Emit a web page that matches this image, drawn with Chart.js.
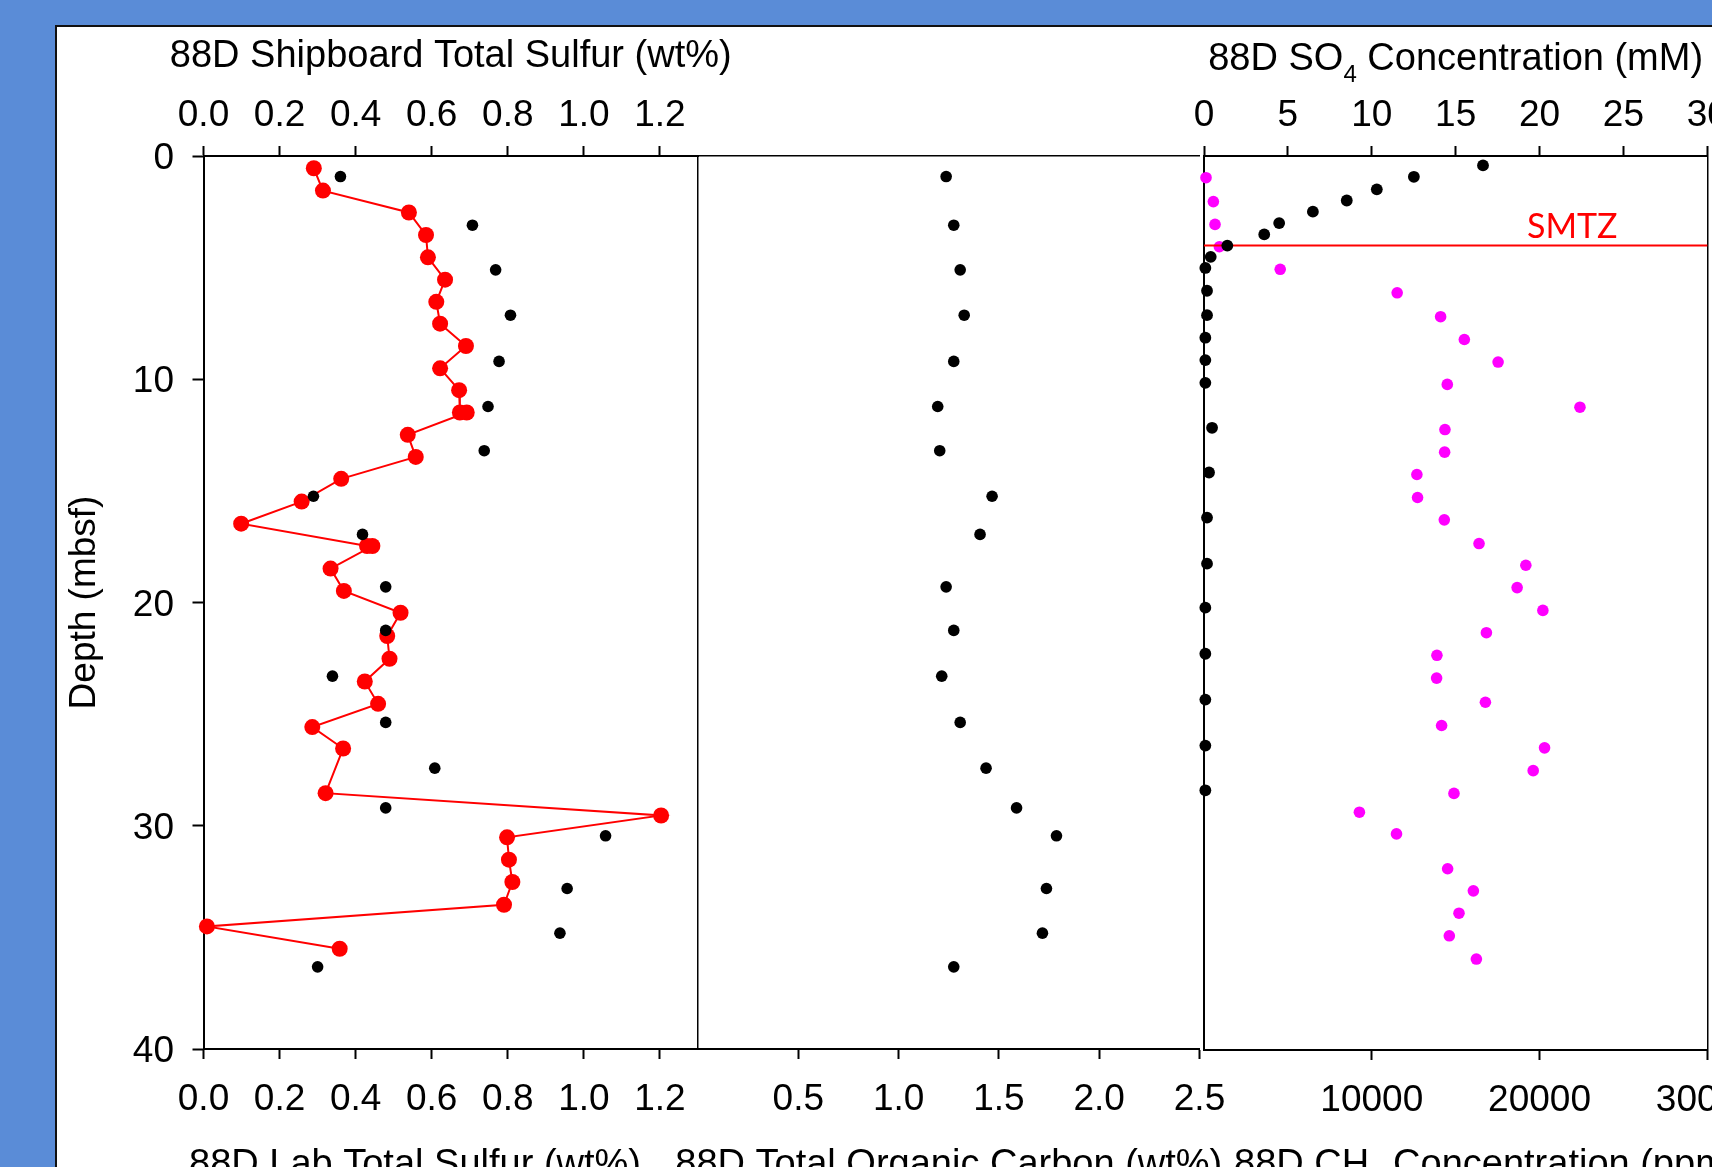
<!DOCTYPE html>
<html><head><meta charset="utf-8">
<script src="https://cdn.jsdelivr.net/npm/chart.js@4.4.1/dist/chart.umd.min.js"></script>
<style>
html,body{margin:0;padding:0;width:1712px;height:1167px;overflow:hidden;background:#5A8CD7;}
#frame{position:absolute;left:55px;top:25px;width:1700px;height:1200px;background:#fff;border-left:2px solid #111;border-top:2px solid #111;}
canvas{position:absolute;left:0;top:0;}
</style></head><body>
<div id="frame"></div>
<canvas id="c1" width="1800" height="1300"></canvas>
<canvas id="c2" width="1800" height="1300"></canvas>
<canvas id="c3" width="1800" height="1300"></canvas>
<script>
// ---------------- data ----------------
const depthTicks = [0, 10, 20, 30, 40];
const sulfurTicks = [0, 0.2, 0.4, 0.6, 0.8, 1.0, 1.2];
const tocTicks = [0.5, 1.0, 1.5, 2.0, 2.5];
const so4Ticks = [0, 5, 10, 15, 20, 25, 30];
const ch4Ticks = [10000, 20000, 30000];

const labSulfurDepth = [0.55,1.55,2.53,3.54,4.54,5.54,6.53,7.51,8.51,9.51,10.49,11.49,11.49,12.49,13.48,14.46,15.48,16.47,17.47,17.47,18.48,19.48,20.46,21.5,22.52,23.54,24.54,25.58,26.54,28.54,29.54,30.52,31.52,32.52,33.54,34.51,35.51];
const labSulfur = [0.290,0.314,0.540,0.585,0.590,0.635,0.612,0.622,0.690,0.622,0.672,0.674,0.692,0.537,0.558,0.362,0.258,0.099,0.430,0.444,0.334,0.369,0.518,0.483,0.489,0.424,0.459,0.286,0.367,0.321,1.203,0.798,0.803,0.812,0.790,0.009,0.358];

const coreDepth = [0.92,3.1,5.1,7.13,9.2,11.22,13.2,15.24,16.95,19.3,21.25,23.3,25.37,27.42,29.2,30.45,32.81,34.81,36.32];
const shipboardSulfur = [0.360,0.707,0.768,0.807,0.777,0.748,0.738,0.289,0.418,0.479,0.479,0.339,0.479,0.608,0.479,1.057,0.956,0.937,0.300];
const toc = [1.237,1.275,1.307,1.327,1.275,1.195,1.205,1.466,1.406,1.237,1.275,1.215,1.307,1.436,1.588,1.787,1.737,1.717,1.275];

const so4Depth = [0.42,0.93,1.49,1.99,2.49,3.0,3.51,4.01,4.51,5.01,6.03,7.12,8.13,9.13,10.15,12.16,14.16,16.18,18.24,20.21,22.27,24.32,26.38,28.38];
const so4 = [16.63,12.51,10.30,8.51,6.49,4.48,3.59,1.39,0.40,0.08,0.18,0.18,0.08,0.08,0.08,0.48,0.30,0.18,0.18,0.08,0.08,0.08,0.08,0.08];

const ch4Depth = [0.97,2.04,3.06,4.06,5.07,6.12,7.19,8.21,9.22,10.22,11.24,12.24,13.25,14.25,15.28,16.28,17.34,18.31,19.31,20.33,21.33,22.34,23.36,24.44,25.48,26.48,27.5,28.52,29.36,30.33,31.89,32.88,33.88,34.89,35.93];
const ch4 = [120,558,657,916,4542,11514,14104,15518,17530,14502,22410,14363,14343,12689,12729,14323,16394,19183,18665,20199,16833,13884,13865,16773,14163,20299,19622,14900,9263,11474,14522,16056,15199,14622,16235];

const smtzDepth = 4.0;
const smtzRange = [0, 30];

// ---------------- helpers ----------------
const FONT = "'Liberation Sans', Arial, sans-serif";
const TITLE_SIZE = 38;
Chart.defaults.font.family = FONT;
Chart.defaults.font.size = 37;
Chart.defaults.color = '#000';

const pts = (xs, ys) => xs.map((x, i) => ({x: x, y: ys[i]}));
const setTicks = arr => s => { s.ticks = arr.map(v => ({value: v})); };
const fix = (prop, v) => s => { s[prop] = v; s.paddingLeft = 0; s.paddingRight = 0; s.paddingTop = 0; s.paddingBottom = 0; };

function tickAxis(pos, min, max, ticks, size, pad, fmt, extra) {
  const horiz = pos === 'top' || pos === 'bottom';
  return Object.assign({
    type: 'linear', position: pos, min: min, max: max,
    afterBuildTicks: setTicks(ticks),
    afterFit: fix(horiz ? 'height' : 'width', size),
    ticks: {display: true, color: '#000', padding: pad, autoSkip: false, maxRotation: 0, minRotation: 0,
            labelOffset: horiz ? 0 : 3, font: {size: 37}, callback: fmt},
    grid: {display: true, drawOnChartArea: false, drawTicks: true, tickLength: horiz ? 10 : 11,
           tickWidth: 2, tickColor: '#000'},
    border: {display: true, color: '#000', width: 2}
  }, extra || {});
}
function borderAxis(pos, min, max, reverse, w) {
  const horiz = pos === 'top' || pos === 'bottom';
  return {
    type: 'linear', position: pos, min: min, max: max, reverse: !!reverse,
    afterFit: fix(horiz ? 'height' : 'width', 0),
    ticks: {display: false},
    grid: {display: false},
    border: {display: true, color: '#000', width: w || 1.5}
  };
}
function textPlugin(items) {
  return {
    id: 'extraText',
    afterDraw(chart) {
      const ctx = chart.ctx;
      items.forEach(it => {
        const p = it.pos(chart);
        ctx.save();
        ctx.fillStyle = it.color || '#000';
        ctx.textBaseline = 'alphabetic';
        ctx.textAlign = 'left';
        let total = 0;
        it.parts.forEach(pt => { ctx.font = (pt.size || TITLE_SIZE) + 'px ' + (it.family || FONT); total += ctx.measureText(pt.t).width; });
        let x = it.align === 'center' ? p.x - total / 2 : p.x;
        it.parts.forEach(pt => {
          ctx.font = (pt.size || TITLE_SIZE) + 'px ' + (it.family || FONT);
          ctx.fillText(pt.t, x, p.y + (pt.dy || 0));
          x += ctx.measureText(pt.t).width;
        });
        ctx.restore();
      });
    }
  };
}
const baseOpts = {
  responsive: false, animation: false, events: [],
  plugins: {legend: {display: false}, tooltip: {enabled: false}}
};
const f1 = v => Number(v).toFixed(1);
const f0 = v => String(v);
const midX = c => (c.chartArea.left + c.chartArea.right) / 2;

// ---------------- panel 1: sulfur ----------------
new Chart(document.getElementById('c1'), {
  type: 'scatter',
  data: {datasets: [
    {label: '88D Shipboard Total Sulfur', data: pts(shipboardSulfur, coreDepth), xAxisID: 'xTop', yAxisID: 'y',
     pointRadius: 5.8, pointBackgroundColor: '#000', pointBorderWidth: 0, showLine: false, clip: false},
    {label: '88D Lab Total Sulfur', data: pts(labSulfur, labSulfurDepth), xAxisID: 'xBot', yAxisID: 'y',
     showLine: true, borderColor: '#ff0000', borderWidth: 2, pointRadius: 8,
     pointBackgroundColor: '#ff0000', pointBorderWidth: 0, clip: false}
  ]},
  options: Object.assign({}, baseOpts, {
    layout: {padding: {left: 53.5, right: 1102, top: 26, bottom: 101}},
    scales: {
      y: tickAxis('left', 0, 40, depthTicks, 150, 18.5, f0, {
        reverse: true,
        title: {display: true, text: 'Depth (mbsf)', color: '#000', font: {size: 37}, padding: {top: 9.3, bottom: 0}}
      }),
      yR: borderAxis('right', 0, 40, true, 1.5),
      xTop: tickAxis('top', 0, 1.3, sulfurTicks, 130, 7.8, f1),
      xBot: tickAxis('bottom', 0, 1.3, sulfurTicks, 150, 18.8, f1)
    }
  }),
  plugins: [textPlugin([
    {parts: [{t: '88D Shipboard Total Sulfur (wt%)'}], align: 'center',
     pos: c => ({x: midX(c), y: 67})},
    {parts: [{t: '88D Lab Total Sulfur (wt%)'}], align: 'left',
     pos: c => ({x: c.chartArea.left - 14.5, y: 1176})}
  ])]
});

// ---------------- panel 2: TOC ----------------
new Chart(document.getElementById('c2'), {
  type: 'scatter',
  data: {datasets: [
    {label: '88D Total Organic Carbon', data: pts(toc, coreDepth), xAxisID: 'xBot', yAxisID: 'y',
     pointRadius: 5.8, pointBackgroundColor: '#000', pointBorderWidth: 0, showLine: false, clip: false}
  ]},
  options: Object.assign({}, baseOpts, {
    layout: {padding: {left: 698, right: 600.5, top: 156, bottom: 101}},
    scales: {
      y: {type: 'linear', display: false, min: 0, max: 40, reverse: true},
      xTop: borderAxis('top', 0, 2.5, false, 1.5),
      xBot: tickAxis('bottom', 0, 2.5, tocTicks, 150, 18.8, f1)
    }
  }),
  plugins: [textPlugin([
    {parts: [{t: '88D Total Organic Carbon (wt%)'}], align: 'center',
     pos: c => ({x: midX(c), y: 1176})}
  ])]
});

// ---------------- panel 3: SO4 / CH4 ----------------
new Chart(document.getElementById('c3'), {
  type: 'scatter',
  data: {datasets: [
    {label: '88D SO4', data: pts(so4, so4Depth), xAxisID: 'xTop', yAxisID: 'y',
     pointRadius: 5.9, pointBackgroundColor: '#000', pointBorderWidth: 0, showLine: false, clip: false},
    {label: 'SMTZ', data: smtzRange.map(v => ({x: v, y: smtzDepth})), xAxisID: 'xTop', yAxisID: 'y',
     showLine: true, borderColor: '#ff0000', borderWidth: 2, pointRadius: 0, clip: false},
    {label: '88D CH4', data: pts(ch4, ch4Depth), xAxisID: 'xBot', yAxisID: 'y',
     pointRadius: 5.8, pointBackgroundColor: '#ff00ff', pointBorderWidth: 0, showLine: false, clip: false}
  ]},
  options: Object.assign({}, baseOpts, {
    layout: {padding: {left: 1204, right: 92.7, top: 26, bottom: 100}},
    scales: {
      y: borderAxis('left', 0, 40, true, 2),
      yR: borderAxis('right', 0, 40, true, 1.5),
      xTop: tickAxis('top', 0, 30, so4Ticks, 130, 7.8, f0),
      xBot: tickAxis('bottom', 0, 30000, ch4Ticks, 150, 18.8, f0)
    }
  }),
  plugins: [textPlugin([
    {parts: [{t: '88D SO'}, {t: '4', size: 24, dy: 12}, {t: ' Concentration (mM)'}], align: 'center',
     pos: c => ({x: midX(c), y: 70})},
    {parts: [{t: '88D CH'}, {t: '4', size: 24, dy: 12}, {t: ' Concentration (ppmv)'}], align: 'left',
     pos: c => ({x: c.chartArea.left + 30, y: 1176})},
    {parts: [{t: 'SMTZ', size: 34}], align: 'left', color: '#ff0000', family: "Lato, 'Open Sans', sans-serif",
     pos: c => ({x: c.scales.xTop.getPixelForValue(19.25), y: c.scales.y.getPixelForValue(smtzDepth) - 7})}
  ])]
});
</script>
</body></html>
